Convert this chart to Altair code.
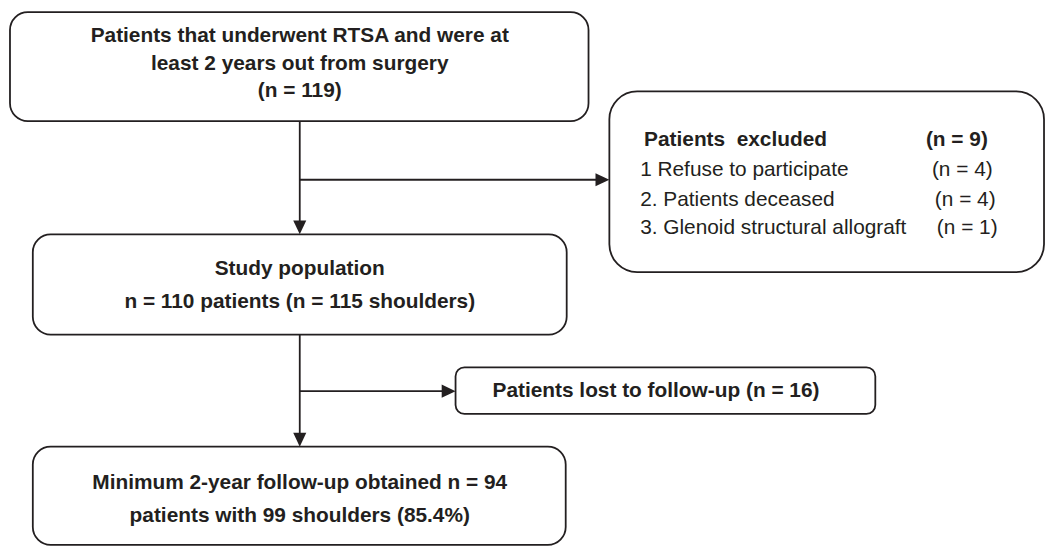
import altair as alt
import pandas as pd

# ---- data (pixel layout of the flow diagram) ----
box_names = ["cohort", "excluded", "study", "lost", "final"]
box_x0 = [10, 614, 33, 459, 33]
box_x1 = [593, 1052, 571, 882, 570]
box_y0 = [10, 90, 234, 368, 448]
box_y1 = [120, 272, 335, 415, 547]
box_r = [18, 28, 18, 9, 18]

line_x0 = [302, 302, 302, 302]
line_x1 = [302, 604, 302, 450]
line_y0 = [120, 179, 335, 392]
line_y1 = [226, 179, 440, 392]

DOWN = "M-0.47,-1L0.47,-1L0,0Z"
RIGHT = "M-1,-0.47L-1,0.47L0,0Z"
arrow_x = [302, 614, 302, 459]
arrow_y = [234, 179, 448, 392]
arrow_shape = [DOWN, RIGHT, DOWN, RIGHT]

bold_center_text = [
    "Patients that underwent RTSA and were at",
    "least 2 years out from surgery",
    "(n = 119)",
    "Study population",
    "n = 110 patients (n = 115 shoulders)",
    "Patients lost to follow-up (n = 16)",
    "Minimum 2-year follow-up obtained n = 94",
    "patients with 99 shoulders (85.4%)",
]
bold_center_x = [302, 302, 302, 302, 302, 661, 302, 302]
bold_center_y = [34, 62, 90, 269, 302, 392, 485, 518]

bold_left_text = ["Patients\u00a0 excluded", "(n = 9)"]
bold_left_x = [649, 933]
bold_left_y = [139, 139]

reg_left_text = [
    "1 Refuse to participate", "(n = 4)",
    "2. Patients deceased", "(n = 4)",
    "3. Glenoid structural allograft", "(n = 1)",
]
reg_left_x = [645, 939, 645, 942, 645, 944]
reg_left_y = [169, 169, 199, 199, 228, 228]

INK = "#231f20"
FONT = "Liberation Sans"
FS = 21

W, H = 1046, 541
xs = alt.Scale(domain=[8, 8 + W], nice=False, zero=False)
ys = alt.Scale(domain=[8, 8 + H], nice=False, zero=False, reverse=True)

boxes = pd.DataFrame(dict(name=box_names, x0=box_x0, x1=box_x1, y0=box_y0, y1=box_y1, r=box_r))
lines = pd.DataFrame(dict(x0=line_x0, x1=line_x1, y0=line_y0, y1=line_y1))
arrows = pd.DataFrame(dict(x=arrow_x, y=arrow_y, shape=arrow_shape))
t_bc = pd.DataFrame(dict(t=bold_center_text, x=bold_center_x, y=bold_center_y))
t_bl = pd.DataFrame(dict(t=bold_left_text, x=bold_left_x, y=bold_left_y))
t_rl = pd.DataFrame(dict(t=reg_left_text, x=reg_left_x, y=reg_left_y))

def X(f):
    return alt.X(f, type="quantitative", scale=xs, axis=None)

def Y(f):
    return alt.Y(f, type="quantitative", scale=ys, axis=None)

box_layers = []
for r in sorted(set(box_r)):
    sub = boxes[boxes.r == r]
    box_layers.append(
        alt.Chart(sub).mark_rect(cornerRadius=r, fill="white", stroke=INK, strokeWidth=1.8).encode(
            x=X("x0"), x2="x1", y=Y("y0"), y2="y1"
        )
    )

rules = alt.Chart(lines).mark_rule(color=INK, strokeWidth=1.8).encode(
    x=X("x0"), x2="x1", y=Y("y0"), y2="y1"
)

heads = alt.Chart(arrows).mark_point(filled=True, color=INK, opacity=1, size=784, strokeWidth=0).encode(
    x=X("x"), y=Y("y"), shape=alt.Shape("shape:N", scale=None)
)

txt_bc = alt.Chart(t_bc).mark_text(
    font=FONT, fontSize=FS, fontWeight="bold", align="center", baseline="middle", color=INK
).encode(x=X("x"), y=Y("y"), text="t:N")

txt_bl = alt.Chart(t_bl).mark_text(
    font=FONT, fontSize=FS, fontWeight="bold", align="left", baseline="middle", color=INK
).encode(x=X("x"), y=Y("y"), text="t:N")

txt_rl = alt.Chart(t_rl).mark_text(
    font=FONT, fontSize=FS, fontWeight="normal", align="left", baseline="middle", color=INK
).encode(x=X("x"), y=Y("y"), text="t:N")

chart = alt.layer(*box_layers, rules, heads, txt_bc, txt_bl, txt_rl).properties(
    width=W, height=H, padding=0, autosize=alt.AutoSizeParams(type="none"), background="white"
).configure_view(stroke=None)

chart.save("out.html", embed_options={"renderer": "svg", "actions": False})
